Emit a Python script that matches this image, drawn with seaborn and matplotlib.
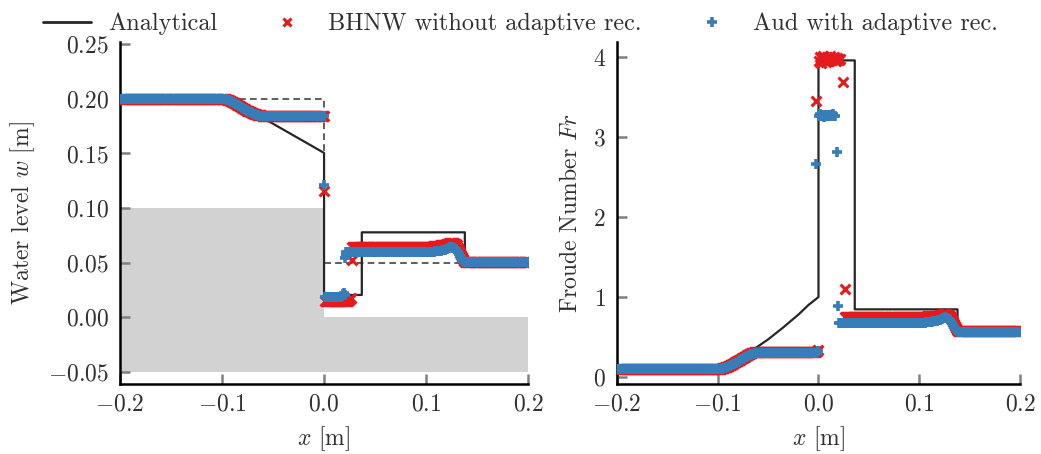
import numpy as np
import matplotlib
matplotlib.use("Agg")
import matplotlib.pyplot as plt
from matplotlib.lines import Line2D
import seaborn as sns

# ---------------- data ----------------
# analytical water level w [m]
an_w_x = [-0.2, -0.092, -0.06, -0.03, 0.0, 0.0, 0.037, 0.037, 0.138, 0.138, 0.2]
an_w_y = [0.2, 0.2, 0.1825, 0.1665, 0.1505, 0.0205, 0.0205, 0.0778, 0.0778, 0.05, 0.05]
# initial condition (dashed)
init_x = [-0.2, 0.0, 0.0, 0.2]
init_y = [0.2, 0.2, 0.05, 0.05]
# bathymetry
bed_x = [-0.2, 0.0, 0.0, 0.2]
bed_top = [0.1, 0.1, 0.0, 0.0]
bed_bottom = -0.05

# analytical Froude number
an_fr_x = [-0.2, -0.093, -0.08, -0.065, -0.05, -0.035, -0.02, -0.01, 0.0, 0.0,
           0.036, 0.036, 0.138, 0.138, 0.2]
an_fr_y = [0.1, 0.1, 0.21, 0.34, 0.47, 0.62, 0.78, 0.9, 1.0, 3.96,
           3.96, 0.846, 0.846, 0.57, 0.57]

# BHNW without adaptive reconstruction: water level (profile key points)
bw1_x = [-0.2, -0.098, -0.092, -0.085, -0.075, -0.066, -0.06, 0.0]
bw1_y = [0.2, 0.2, 0.198, 0.1945, 0.189, 0.1855, 0.1845, 0.1845]
bw2_x = [0.0, 0.024, 0.027]
bw2_y = [0.0152, 0.0152, 0.0178]
bw3_x = [0.0275, 0.106, 0.118, 0.125, 0.130, 0.134, 0.138, 0.2]
bw3_y = [0.0648, 0.0648, 0.0665, 0.0683, 0.067, 0.058, 0.0505, 0.0505]
bw_out_x = [0.0, 0.027]
bw_out_y = [0.116, 0.0525]

# Aud with adaptive reconstruction: water level
aw1_x = [-0.2, -0.098, -0.092, -0.085, -0.075, -0.066, -0.06, 0.0]
aw1_y = [0.2, 0.2, 0.198, 0.1945, 0.189, 0.1852, 0.1840, 0.1840]
aw2_x = [0.0, 0.017, 0.019, 0.021]
aw2_y = [0.0188, 0.0188, 0.0226, 0.0195]
aw3_x = [0.0215, 0.106, 0.117, 0.125, 0.130, 0.134, 0.137, 0.2]
aw3_y = [0.0600, 0.0600, 0.0615, 0.0645, 0.062, 0.055, 0.0505, 0.0505]
aw_out_x = [0.0, 0.0205, 0.0212]
aw_out_y = [0.121, 0.054, 0.057]

# BHNW: Froude number
bf1_x = [-0.2, -0.097, -0.09, -0.08, -0.07, -0.064, -0.002, 0.0]
bf1_y = [0.1, 0.1, 0.13, 0.2, 0.275, 0.31, 0.31, 0.35]
bf_peak_y = [3.95, 4.0, 3.93, 3.98, 4.01, 3.96, 3.99, 3.94, 4.0, 3.97, 3.95,
             4.01, 3.98, 3.96, 3.99, 4.0, 3.97, 3.95, 3.99, 3.98, 3.96, 3.98]
bf_out_x = [-0.002, 0.024, 0.0265]
bf_out_y = [3.45, 3.69, 1.10]
bf3_x = [0.026, 0.105, 0.118, 0.1255, 0.130, 0.134, 0.138, 0.2]
bf3_y = [0.755, 0.755, 0.765, 0.79, 0.77, 0.68, 0.57, 0.57]

# Aud: Froude number
af1_x = [-0.2, -0.097, -0.09, -0.08, -0.07, -0.064, -0.002, 0.0]
af1_y = [0.1, 0.1, 0.125, 0.19, 0.265, 0.295, 0.295, 0.33]
af_peak_y = [3.27, 3.29, 3.26, 3.28, 3.27, 3.25, 3.28, 3.27, 3.26,
             3.28, 3.27, 3.26, 3.28, 3.27, 3.29, 3.26, 3.27]
af_out_x = [-0.002, 0.018, 0.0195]
af_out_y = [2.66, 2.82, 0.89]
af3_x = [0.0205, 0.105, 0.117, 0.1255, 0.130, 0.134, 0.138, 0.2]
af3_y = [0.68, 0.68, 0.70, 0.745, 0.72, 0.64, 0.565, 0.565]

xticks = [-0.2, -0.1, 0.0, 0.1, 0.2]
w_ticks = [-0.05, 0.0, 0.05, 0.10, 0.15, 0.20, 0.25]
fr_ticks = [0, 1, 2, 3, 4]

# ---------------- helpers ----------------
cells = np.arange(-0.1995, 0.2, 0.001)   # cell centres of the numerical grid


def band(xk, yk):
    m = (cells >= xk[0]) & (cells <= xk[-1])
    return cells[m], np.interp(cells[m], xk, yk)


def series(segs, peak_y=None, out=None):
    xs, ys = [], []
    for xk, yk in segs:
        a, b = band(xk, yk)
        xs.append(a)
        ys.append(b)
    if peak_y is not None:
        px = cells[cells > 0][:len(peak_y)]
        xs.append(px)
        ys.append(np.asarray(peak_y))
    if out is not None:
        xs.append(np.asarray(out[0]))
        ys.append(np.asarray(out[1]))
    return np.concatenate(xs), np.concatenate(ys)


bw = series([(bw1_x, bw1_y), (bw2_x, bw2_y), (bw3_x, bw3_y)], out=(bw_out_x, bw_out_y))
aw = series([(aw1_x, aw1_y), (aw2_x, aw2_y), (aw3_x, aw3_y)], out=(aw_out_x, aw_out_y))
bf = series([(bf1_x, bf1_y), (bf3_x, bf3_y)], peak_y=bf_peak_y, out=(bf_out_x, bf_out_y))
af = series([(af1_x, af1_y), (af3_x, af3_y)], peak_y=af_peak_y, out=(af_out_x, af_out_y))

# ---------------- style ----------------
sns.set_theme(style="ticks")
plt.rcParams.update({
    "font.family": ["cmr10"],
    "mathtext.fontset": "cm",
    "axes.formatter.use_mathtext": True,
    "axes.unicode_minus": True,
})

RED = "#e41a1c"
BLUE = "#377eb8"
BLACK = "#262626"
TXT = "#303030"
FS = 17

fig = plt.figure(figsize=(10.41, 4.54), dpi=100)
ax1 = fig.add_axes([0.1153, 0.1542, 0.392, 0.7533])
ax2 = fig.add_axes([0.5927, 0.1542, 0.3871, 0.7533])

# left panel
ax1.fill_between(bed_x, bed_top, bed_bottom, color="#d1d2d1", lw=0, zorder=0)
sns.lineplot(x=init_x, y=init_y, ax=ax1, estimator=None, sort=False,
             color="#444444", lw=1.2, linestyle=(0, (4, 2.5)), zorder=1)
sns.lineplot(x=an_w_x, y=an_w_y, ax=ax1, estimator=None, sort=False,
             color=BLACK, lw=1.6, zorder=2)
sns.scatterplot(x=bw[0], y=bw[1], ax=ax1, marker="x", s=50, linewidth=2.2,
                color=RED, zorder=3)
sns.scatterplot(x=aw[0], y=aw[1], ax=ax1, marker="+", s=60, linewidth=2.6,
                color=BLUE, zorder=4)

# right panel
sns.lineplot(x=an_fr_x, y=an_fr_y, ax=ax2, estimator=None, sort=False,
             color=BLACK, lw=1.6, zorder=2)
sns.scatterplot(x=bf[0], y=bf[1], ax=ax2, marker="x", s=50, linewidth=2.2,
                color=RED, zorder=3)
sns.scatterplot(x=af[0], y=af[1], ax=ax2, marker="+", s=60, linewidth=2.6,
                color=BLUE, zorder=4)

ax1.set_xlim(-0.2, 0.2)
ax1.set_ylim(-0.061, 0.252)
ax1.set_yticks(w_ticks)
ax1.set_yticklabels([f"${t:.2f}$" for t in w_ticks])
ax2.set_xlim(-0.2, 0.2)
ax2.set_ylim(-0.0875, 4.19)
ax2.set_yticks(fr_ticks)
ax2.set_yticklabels([f"${t}$" for t in fr_ticks])

for ax in (ax1, ax2):
    ax.set_xticks(xticks)
    ax.set_xticklabels([f"${t:.1f}$" for t in xticks])
    sns.despine(ax=ax)
    for s in ("left", "bottom"):
        ax.spines[s].set_linewidth(1.8)
        ax.spines[s].set_color("black")
    ax.tick_params(direction="in", length=7, width=1.8, color="#808080",
                   labelsize=FS, labelcolor=TXT)
    ax.tick_params(axis="y", pad=8)
    ax.tick_params(axis="x", pad=7)
    ax.set_xlabel("$x$ [m]", fontsize=FS, color=TXT, labelpad=6)

ax1.set_ylabel("Water level $w$ [m]", fontsize=FS, color=TXT, labelpad=8)
ax2.set_ylabel("Froude Number $Fr$", fontsize=FS, color=TXT, labelpad=8)

handles = [
    Line2D([], [], color=BLACK, lw=2.0),
    Line2D([], [], color=RED, marker="x", ls="", ms=6, mew=2.2),
    Line2D([], [], color=BLUE, marker="+", ls="", ms=7, mew=2.6),
]
labels = ["Analytical", "BHNW without adaptive rec.", "Aud with adaptive rec."]
fig.legend(handles, labels, loc="upper center", bbox_to_anchor=(0.5, 1.02),
           ncol=3, frameon=False, fontsize=17.5, handlelength=1.95,
           handletextpad=0.72, columnspacing=1.9, labelcolor=TXT)

fig.savefig("out.png", dpi=100)
